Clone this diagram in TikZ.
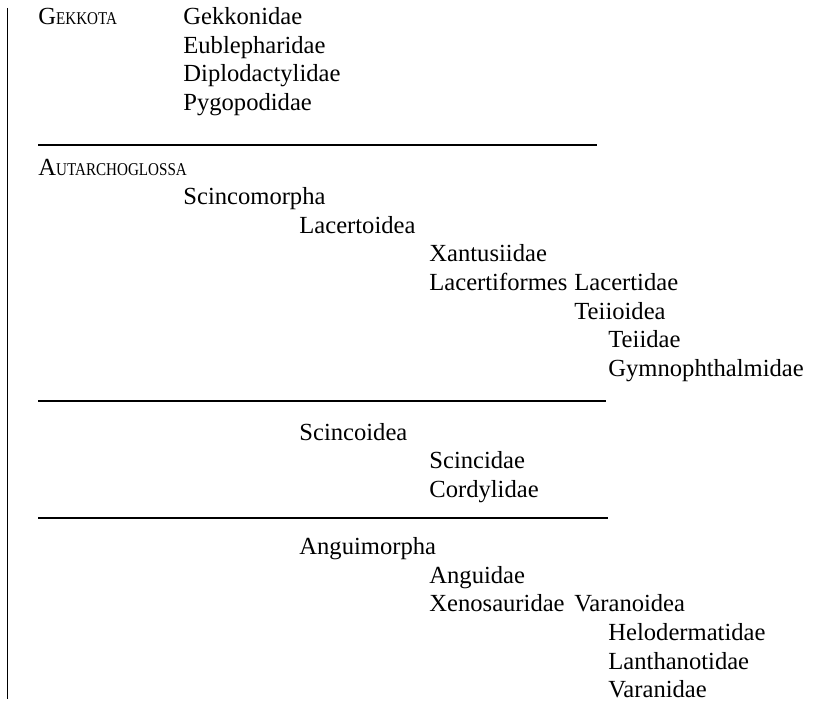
\documentclass[tikz,border=0pt]{standalone}
\usepackage{fontspec}
\setmainfont{Liberation Serif}
\usepackage{tikz}
\usetikzlibrary{positioning}

\newcommand{\fakesc}[2]{#1\scalebox{0.84}[1]{\fontsize{9}{10}\selectfont #2}}

\begin{document}
\begin{tikzpicture}[x=0.5pt,y=-0.5pt,
	taxon node/.style={anchor=base west,inner sep=0pt,font=\fontsize{12.3}{14}\selectfont},
	rule line/.style={line width=0.8pt},
	side line/.style={line width=0.5pt}]
	
	\useasboundingbox (0,0) rectangle (813,706);
	
	% Gekkota
	\node[taxon node] (gekkota) at (38,25) {\fakesc{G}{EKKOTA}};
	\node[taxon node] (gekkonidae) at (183,25) {Gekkonidae};
	\node[taxon node] (eublepharidae) at (183,53.6) {Eublepharidae};
	\node[taxon node] (diplodactylidae) at (183,82) {Diplodactylidae};
	\node[taxon node] (pygopodidae) at (183,111) {Pygopodidae};
	
	% Autarchoglossa, Scincomorpha
	\node[taxon node] (autarchoglossa) at (38,175) {\fakesc{A}{UTARCHOGLOSSA}};
	\node[taxon node] (scincomorpha) at (183,204) {Scincomorpha};
	\node[taxon node] (lacertoidea) at (299,233) {Lacertoidea};
	\node[taxon node] (xantusiidae) at (429,261) {Xantusiidae};
	\node[taxon node] (lacertiformes) at (429,290) {Lacertiformes};
	\node[taxon node] (lacertidae) at (574,290) {Lacertidae};
	\node[taxon node] (teiioidea) at (574,319) {Teiioidea};
	\node[taxon node] (teiidae) at (608,347) {Teiidae};
	\node[taxon node] (gymnophthalmidae) at (608,376) {Gymnophthalmidae};
	
	\node[taxon node] (scincoidea) at (299,440) {Scincoidea};
	\node[taxon node] (scincidae) at (429,468) {Scincidae};
	\node[taxon node] (cordylidae) at (429,497) {Cordylidae};
	
	% Anguimorpha
	\node[taxon node] (anguimorpha) at (299,554) {Anguimorpha};
	\node[taxon node] (anguidae) at (429,583) {Anguidae};
	\node[taxon node] (xenosauridae) at (429,611) {Xenosauridae};
	\node[taxon node] (varanoidea) at (574,611) {Varanoidea};
	\node[taxon node] (helodermatidae) at (608,640) {Helodermatidae};
	\node[taxon node] (lanthanotidae) at (608,669) {Lanthanotidae};
	\node[taxon node] (varanidae) at (608,697) {Varanidae};
	
	% rules
	\coordinate (side top) at (7,8);
	\coordinate (side bottom) at (7,699);
	\coordinate (rule1 west) at (38,145);
	\coordinate (rule1 east) at (597,145);
	\coordinate (rule2 west) at (38,401);
	\coordinate (rule2 east) at (606,401);
	\coordinate (rule3 west) at (38,518);
	\coordinate (rule3 east) at (608,518);
	
	\draw[side line] (side top) -- (side bottom);
	\draw[rule line] (rule1 west) -- (rule1 east);
	\draw[rule line] (rule2 west) -- (rule2 east);
	\draw[rule line] (rule3 west) -- (rule3 east);
\end{tikzpicture}
\end{document}
